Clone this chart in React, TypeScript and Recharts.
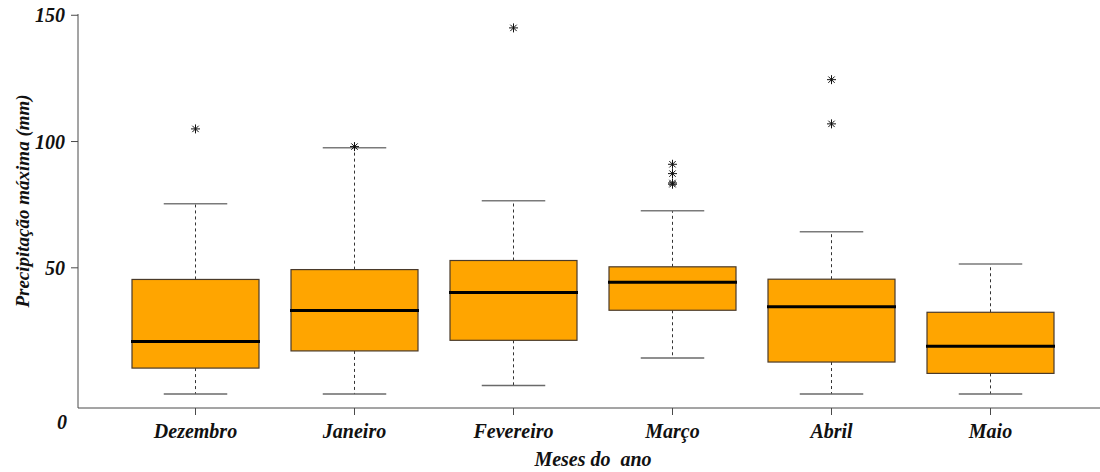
import React from 'react';
import { ComposedChart, Bar, XAxis, YAxis, Label } from 'recharts';

const months = ['Dezembro', 'Janeiro', 'Fevereiro', 'Março', 'Abril', 'Maio'];
const lowerWhisker = [0, 0, 3.4, 14.3, 0, 0];
const q1 = [10.3, 17.1, 21.3, 33.2, 12.7, 8.2];
const median = [20.8, 33.1, 40.2, 44.3, 34.6, 18.9];
const q3 = [45.4, 49.3, 52.9, 50.4, 45.5, 32.4];
const upperWhisker = [75.4, 97.5, 76.6, 72.6, 64.3, 51.5];
const outliers: number[][] = [[105], [98], [145], [91, 87.3, 83.6, 83.1], [124.5, 107], []];
const yTicks = [0, 50, 100, 150];

const data = months.map((m, i) => ({
  month: m,
  box: [q1[i], q3[i]],
  lo: lowerWhisker[i],
  q1: q1[i],
  med: median[i],
  q3: q3[i],
  hi: upperWhisker[i],
  out: outliers[i],
}));

const FONT = '"Liberation Serif", "Times New Roman", serif';
const AXIS_COLOR = '#4a4a4a';
const TICK_SIZE = 7;
const Y_TICK_MARGIN = 6;

const Star = ({ cx, cy, r }: { cx: number; cy: number; r: number }) => {
  const d = r * 0.7071;
  return (
    <g stroke="#111" strokeWidth={1}>
      <line x1={cx - r} y1={cy} x2={cx + r} y2={cy} />
      <line x1={cx} y1={cy - r} x2={cx} y2={cy + r} />
      <line x1={cx - d} y1={cy - d} x2={cx + d} y2={cy + d} />
      <line x1={cx - d} y1={cy + d} x2={cx + d} y2={cy - d} />
    </g>
  );
};

const BoxShape = (props: any) => {
  const { x, y, width, height, payload } = props;
  const top = Math.min(y, y + height);
  const h = Math.abs(height);
  const ppu = h / (payload.q3 - payload.q1);
  const toY = (v: number) => top + (payload.q3 - v) * ppu;
  const cx = x + width / 2;
  const capHalf = width / 4;
  const yHi = toY(payload.hi);
  const yLo = toY(payload.lo);
  const yMed = toY(payload.med);
  const yQ1 = toY(payload.q1);
  return (
    <g>
      <line x1={cx} y1={top} x2={cx} y2={yHi} stroke="#333" strokeWidth={1} strokeDasharray="3 3" />
      <line x1={cx} y1={yQ1} x2={cx} y2={yLo} stroke="#333" strokeWidth={1} strokeDasharray="3 3" />
      <line x1={cx - capHalf} y1={yHi} x2={cx + capHalf} y2={yHi} stroke="#7a7a7a" strokeWidth={1.5} />
      <line x1={cx - capHalf} y1={yLo} x2={cx + capHalf} y2={yLo} stroke="#6a6a6a" strokeWidth={1.5} />
      <rect x={x} y={top} width={width} height={h} fill="#FFA500" stroke="#4a3a2a" strokeWidth={1.2} />
      <line x1={x - 1} y1={yMed} x2={x + width + 1} y2={yMed} stroke="#000" strokeWidth={3} />
      {payload.out.map((v: number, i: number) => (
        <Star key={i} cx={cx} cy={toY(v)} r={4.5} />
      ))}
    </g>
  );
};

const YTick = (props: any) => {
  const { x, y, payload } = props;
  if (payload.value === 0) {
    return (
      <text x={x + 2} y={y + 28} dy={7} textAnchor="end" fontFamily={FONT} fontSize={20} fontWeight="bold" fontStyle="italic" fill="#111">
        0
      </text>
    );
  }
  return (
    <g>
      <line x1={x + Y_TICK_MARGIN} y1={y} x2={x + Y_TICK_MARGIN + TICK_SIZE} y2={y} stroke={AXIS_COLOR} strokeWidth={1} />
      <text x={x} y={y} dy={7} textAnchor="end" fontFamily={FONT} fontSize={20} fontWeight="bold" fontStyle="italic" fill="#111">
        {payload.value}
      </text>
    </g>
  );
};

const XTick = (props: any) => {
  const { x, y, payload } = props;
  return (
    <text x={x} y={y} dy={21} textAnchor="middle" fontFamily={FONT} fontSize={20} fontWeight="bold" fontStyle="italic" fill="#111">
      {payload.value}
    </text>
  );
};

export default function App() {
  return (
    <div style={{ position: 'absolute', left: 0, top: 0, width: 1100, height: 472, overflow: 'hidden', background: '#fff' }}>
      <ComposedChart
        width={1130}
        height={472}
        data={data}
        margin={{ top: 14, right: 22, bottom: 34, left: 18 }}
      >
        <XAxis
          xAxisId="top"
          orientation="top"
          dataKey="month"
          height={0}
          tick={false}
          tickLine={false}
          axisLine={{ stroke: '#666', strokeWidth: 1 }}
          padding={{ left: 38, right: 38 }}
        />
        <XAxis
          dataKey="month"
          height={30}
          tickSize={TICK_SIZE}
          tickMargin={2}
          tick={<XTick />}
          tickLine={{ stroke: AXIS_COLOR }}
          axisLine={{ stroke: AXIS_COLOR, strokeWidth: 1 }}
          padding={{ left: 38, right: 38 }}
          interval={0}
        >
          <Label
            content={(p: any) => {
              const vb = p.viewBox;
              return (
                <text
                  x={vb.x + vb.width / 2}
                  y={vb.y + 58}
                  textAnchor="middle"
                  fontFamily={FONT}
                  fontSize={20}
                  fontWeight="bold"
                  fontStyle="italic"
                  fill="#111"
                  style={{ whiteSpace: 'pre' }}
                >
                  {'Meses do  ano'}
                </text>
              );
            }}
          />
        </XAxis>
        <YAxis
          type="number"
          domain={[-5.5, 150.5]}
          ticks={yTicks}
          width={60}
          tickSize={TICK_SIZE}
          tickMargin={Y_TICK_MARGIN}
          tickLine={false}
          tick={<YTick />}
          axisLine={{ stroke: AXIS_COLOR, strokeWidth: 1 }}
          allowDataOverflow
        >
          <Label
            content={(p: any) => {
              const vb = p.viewBox;
              const cx = vb.x + 4;
              const cy = vb.y + vb.height / 2 - 10;
              return (
                <text
                  x={cx}
                  y={cy}
                  transform={`rotate(-90 ${cx} ${cy})`}
                  textAnchor="middle"
                  dominantBaseline="central"
                  fontFamily={FONT}
                  fontSize={19}
                  fontWeight="bold"
                  fontStyle="italic"
                  fill="#111"
                >
                  Precipitação máxima (mm)
                </text>
              );
            }}
          />
        </YAxis>
        <Bar dataKey="box" barSize={127} shape={<BoxShape />} isAnimationActive={false} />
      </ComposedChart>
    </div>
  );
}
